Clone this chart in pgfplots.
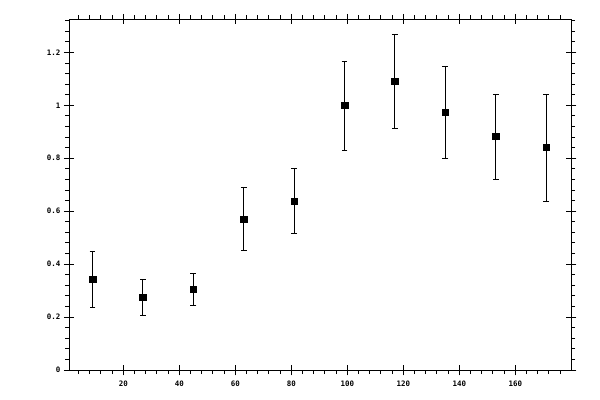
\documentclass[border=0pt]{standalone}
\usepackage{pgfplots}
\pgfplotsset{compat=1.18}
\usepackage{fontspec}
\setmonofont{DejaVu Sans Mono}

\begin{document}
\begin{tikzpicture}[x=0.75pt,y=0.75pt]
% page = 600 x 400 px, axis box from (69.3,19.3) to (571,370) px
\path[use as bounding box] (-69.3,-30) rectangle (530.7,370);
\begin{axis}[
  at={(0,0)}, anchor=south west,
  scale only axis,
  width=376.3pt, height=263pt,
  xmin=0.7, xmax=179.9,
  ymin=0, ymax=1.325,
  xtick={20,40,...,160},
  ytick={0,0.2,...,1.2},
  minor xtick={4,8,...,176},
  minor ytick={0.04,0.08,...,1.33},
  axis line style={line width=0.75pt},
  every tick/.style={black,line width=0.75pt},
  tick align=outside,
  major tick length=4pt,
  minor tick length=3pt,
  extra x ticks={20,40,...,160},
  extra x tick labels={},
  extra y ticks={0.2,0.4,...,1.2},
  extra y tick labels={},
  extra tick style={tick align=inside, major tick length=3.5pt},
  xtick pos=both, ytick pos=both,
  /pgf/number format/assume math mode=true,
  tick label style={font=\ttfamily\bfseries\fontsize{5.6}{6}\selectfont},
  xticklabel style={yshift=-0.5pt},
  yticklabel style={xshift=0.8pt},
]
\addplot[black, only marks, mark=square*, mark size=2.5pt,
  error bars/.cd, y dir=both, y explicit,
  error bar style={line width=0.75pt},
  error mark options={rotate=90, mark size=2.2pt, line width=0.75pt}]
  table[x=x, y=y, y error plus=ep, y error minus=em] {
x    y      ep     em
9    0.343  0.105  0.105
27   0.275  0.068  0.068
45   0.305  0.059  0.061
63   0.569  0.120  0.116
81   0.637  0.123  0.121
99   1.000  0.165  0.170
117  1.091  0.176  0.178
135  0.974  0.173  0.174
153  0.883  0.159  0.163
171  0.841  0.201  0.204
};
\end{axis}
\end{tikzpicture}
\end{document}
